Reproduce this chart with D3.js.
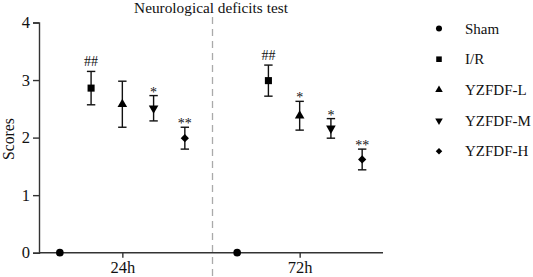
<!DOCTYPE html>
<html><head><meta charset="utf-8">
<script src="https://cdn.jsdelivr.net/npm/d3@7"></script>
<style>body{margin:0;background:#fff}svg{display:block}text{font-family:"Liberation Serif","Times New Roman",serif;fill:#111}</style>
</head><body><svg id="c" width="533" height="277"></svg>
<script>
const timepoints = ['24h','72h'];
const groups = ['Sham','I/R','YZFDF-L','YZFDF-M','YZFDF-H'];
const mean24 = [0, 2.86, 2.58, 2.51, 1.99];
const sd24   = [0, 0.29, 0.40, 0.22, 0.19];
const mean72 = [0, 2.99, 2.38, 2.16, 1.62];
const sd72   = [0, 0.27, 0.25, 0.17, 0.18];
const sig24  = ['', '##', '', '*', '**'];
const sig72  = ['', '##', '*', '*', '**'];
const yTicks = [0,1,2,3,4];
const title = 'Neurological deficits test';
const yLabel = 'Scores';

const svg = d3.select('#c');
const x0 = d3.scalePoint().domain(timepoints).range([39,383]).padding(0.47);
const x1 = d3.scalePoint().domain(groups).range([-62.5,62.5]);
const y = d3.scaleLinear().domain([0,4]).range([252.7,22.5]);
const axisColor = '#333';

const sym = {
  'Sham': {t:d3.symbolCircle, s:46, r:0},
  'I/R': {t:d3.symbolSquare, s:50, r:0},
  'YZFDF-L': {t:d3.symbolTriangle, s:40, r:0},
  'YZFDF-M': {t:d3.symbolTriangle, s:40, r:180},
  'YZFDF-H': {t:d3.symbolSquare, s:34, r:45}
};

const midX = (x0('24h') + x0('72h'))/2 + 1.5;
svg.append('line').attr('x1',midX).attr('x2',midX).attr('y1',17).attr('y2',277)
  .attr('stroke','#aaa').attr('stroke-width',1.3).attr('stroke-dasharray','7,5');

const gy = svg.append('g').attr('transform','translate(39,0)')
  .call(d3.axisLeft(y).tickValues(yTicks).tickSize(6).tickPadding(3).tickFormat(d3.format('d')));
const gx = svg.append('g').attr('transform',`translate(0,${y(0)})`)
  .call(d3.axisBottom(x0).tickSize(5).tickPadding(4));
gx.select('.domain').attr('d', `M39,0H383`);
[gy,gx].forEach(g=>{
  g.selectAll('path,line').attr('stroke',axisColor).attr('stroke-width',1.4);
  g.selectAll('text').style('font-size','16.5px').attr('fill','#111');
});

svg.append('text').attr('x',211).attr('y',13).attr('text-anchor','middle').style('font-size','15.3px').text(title);
svg.append('text').attr('transform','translate(14,139) rotate(-90)').attr('text-anchor','middle').style('font-size','15.7px').text(yLabel);

const data = [];
timepoints.forEach((tp,ti)=>{
  const m = ti===0?mean24:mean72, s = ti===0?sd24:sd72, g = ti===0?sig24:sig72;
  groups.forEach((gr,gi)=>data.push({tp,gr,m:m[gi],s:s[gi],sig:g[gi]}));
});
const plot = svg.append('g');
data.forEach(d=>{
  const cx = x0(d.tp)+x1(d.gr);
  if (d.s>0){
    const yt=y(d.m+d.s), yb=y(d.m-d.s);
    plot.append('line').attr('x1',cx).attr('x2',cx).attr('y1',yt).attr('y2',yb).attr('stroke','#111').attr('stroke-width',1.4);
    [yt,yb].forEach(yy=>plot.append('line').attr('x1',cx-4.2).attr('x2',cx+4.2).attr('y1',yy).attr('y2',yy).attr('stroke','#111').attr('stroke-width',1.4));
  }
  const sp = sym[d.gr];
  plot.append('path').attr('d',d3.symbol().type(sp.t).size(sp.s)())
    .attr('transform',`translate(${cx},${y(d.m)}) rotate(${sp.r})`).attr('fill','#000');
  if (d.sig){
    const top = y(d.m+d.s);
    const isStar = d.sig[0]==='*';
    plot.append('text').attr('x',cx).attr('y', isStar? top+1 : top-5)
      .attr('text-anchor','middle').style('font-size','14px').attr('fill', isStar?'#333':'#111').text(d.sig);
  }
});

const lg = svg.append('g');
groups.forEach((gr,i)=>{
  const yy = 28.5 + i*30.7;
  const sp = sym[gr];
  lg.append('path').attr('d',d3.symbol().type(sp.t).size(sp.s*0.62)())
    .attr('transform',`translate(439,${yy}) rotate(${sp.r})`).attr('fill','#000');
  lg.append('text').attr('x',465).attr('y',yy+5).style('font-size','15px').text(gr);
});
</script></body></html>
